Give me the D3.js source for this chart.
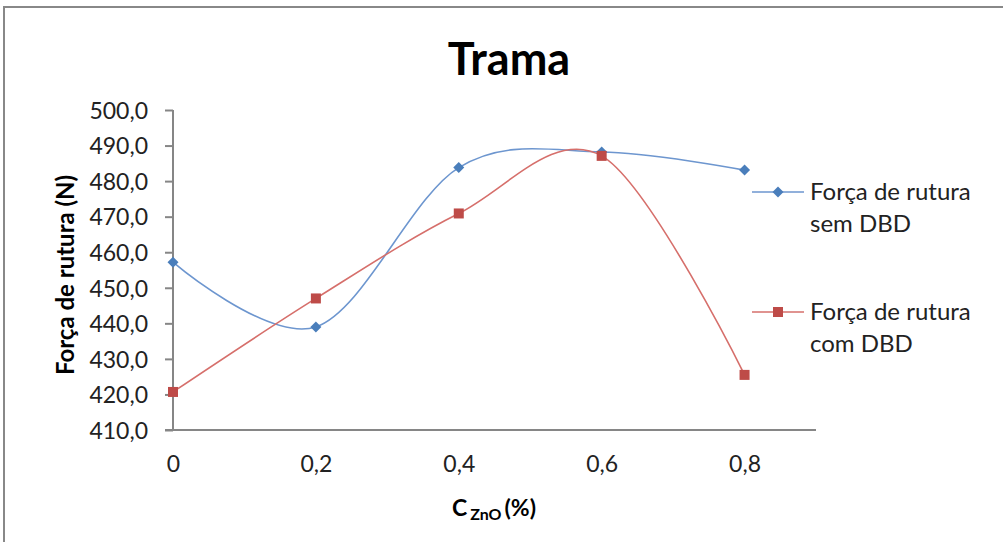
<!DOCTYPE html>
<html>
<head>
<meta charset="utf-8">
<script src="https://cdn.jsdelivr.net/npm/d3@7"></script>
<style>
  html, body { margin: 0; padding: 0; background: #fff; }
  svg { display: block; font-family: Lato, "Open Sans", sans-serif; }
</style>
</head>
<body>
<svg id="chart" width="1003" height="542"></svg>
<script>
// Concentração de ZnO (%)
const concentrations = [0, 0.2, 0.4, 0.6, 0.8];
// Força de rutura (N)
const semDBD = [457.2, 439.0, 483.8, 488.2, 483.1];
const comDBD = [420.7, 447.0, 470.9, 487.1, 425.5];

const seriesNames = [["Força de rutura", "sem DBD"], ["Força de rutura", "com DBD"]];
const yTicks = [410, 420, 430, 440, 450, 460, 470, 480, 490, 500];
const xTicks = [0, 0.2, 0.4, 0.6, 0.8];

const svg = d3.select("#chart");
const labelSize = 23;

// chart frame
svg.append("path")
  .attr("d", "M4,545 L4,7 L1003,7")
  .attr("fill", "none")
  .attr("stroke", "#888")
  .attr("stroke-width", 2);

const x = d3.scaleLinear().domain([0, 0.9]).range([173, 816]);
const y = d3.scaleLinear().domain([410, 500]).range([430, 110]);

const fmt = v => d3.format(".1f")(v).replace(".", ",");
const fmtX = v => String(v).replace(".", ",");

// Y axis
const yAxis = svg.append("g")
  .attr("transform", "translate(173,0)")
  .call(d3.axisLeft(y).tickValues(yTicks).tickFormat(fmt).tickSize(8).tickPadding(17));
yAxis.select(".domain").attr("stroke", "#868686").attr("stroke-width", 2).attr("d", "M0,110V430");
yAxis.selectAll(".tick line").attr("stroke", "#868686").attr("stroke-width", 2);
yAxis.selectAll("text").attr("font-size", labelSize).attr("fill", "#222")
  .attr("font-family", "Lato, sans-serif").attr("dy", "0.36em");

// X axis
const xAxis = svg.append("g")
  .attr("transform", "translate(0,430)")
  .call(d3.axisBottom(x).tickValues(xTicks).tickFormat(fmtX).tickSize(0).tickPadding(26));
xAxis.select(".domain").attr("stroke", "#868686").attr("stroke-width", 2).attr("d", "M165,0H816");
xAxis.selectAll("text").attr("font-size", labelSize).attr("fill", "#222")
  .attr("font-family", "Lato, sans-serif");

// smoothed lines
const line = d3.line().x(d => x(d[0])).y(d => y(d[1])).curve(d3.curveCardinal.tension(0));
const series = [
  { values: semDBD, line: "#6d96cf", fill: "#4a7ebb", shape: "diamond" },
  { values: comDBD, line: "#d66f6b", fill: "#be4b48", shape: "square" }
];

function marker(g, shape, color) {
  if (shape === "diamond") {
    g.append("path").attr("d", "M0,-5.5L5.5,0L0,5.5L-5.5,0Z").attr("fill", color);
  } else {
    g.append("rect").attr("x", -5).attr("y", -5).attr("width", 10).attr("height", 10).attr("fill", color);
  }
}

series.forEach(s => {
  const pts = concentrations.map((c, i) => [c, s.values[i]]);
  svg.append("path")
    .attr("d", line(pts))
    .attr("fill", "none")
    .attr("stroke", s.line)
    .attr("stroke-width", 1.6);
});
series.forEach(s => {
  concentrations.forEach((c, i) => {
    const g = svg.append("g").attr("transform", `translate(${x(c)},${y(s.values[i])})`);
    marker(g, s.shape, s.fill);
  });
});

// legend
const legendY = [192, 312];
series.forEach((s, i) => {
  const g = svg.append("g").attr("transform", `translate(0,${legendY[i]})`);
  g.append("line").attr("x1", 752).attr("x2", 804).attr("y1", 0).attr("y2", 0)
    .attr("stroke", s.line).attr("stroke-width", 1.6);
  const m = g.append("g").attr("transform", "translate(778,0)");
  marker(m, s.shape, s.fill);
  const t = g.append("text").attr("x", 810).attr("y", 8).attr("font-size", 24).attr("fill", "#222");
  t.append("tspan").attr("x", 810).text(seriesNames[i][0]);
  t.append("tspan").attr("x", 810).attr("dy", 32).text(seriesNames[i][1]);
});

// title
svg.append("text")
  .attr("x", 509).attr("y", 75)
  .attr("text-anchor", "middle")
  .attr("font-size", 45).attr("font-weight", "bold").attr("fill", "#000")
  .text("Trama");

// axis titles
svg.append("text")
  .attr("transform", "translate(74,275) rotate(-90)")
  .attr("text-anchor", "middle")
  .attr("font-size", 24).attr("font-weight", "bold").attr("fill", "#000")
  .text("Força de rutura (N)");

const xt = svg.append("text")
  .attr("x", 494).attr("y", 516)
  .attr("text-anchor", "middle")
  .attr("font-size", 23).attr("font-weight", "bold").attr("fill", "#000");
xt.append("tspan").text("C");
xt.append("tspan").attr("font-size", 16).attr("dy", 4).attr("dx", 3).text("ZnO");
xt.append("tspan").attr("dy", -4).attr("dx", 3).text("(%)");
</script>
</body>
</html>
